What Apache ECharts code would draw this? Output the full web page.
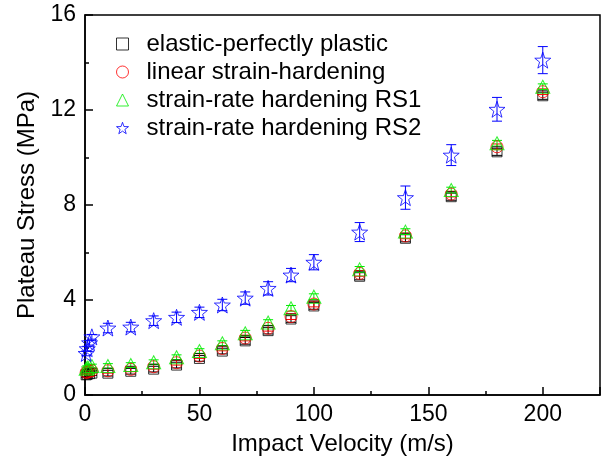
<!DOCTYPE html>
<html>
<head>
<meta charset="utf-8">
<script src="https://cdn.jsdelivr.net/npm/echarts@6/dist/echarts.min.js"></script>
<style>
  html, body { margin: 0; padding: 0; background: #fff; }
  #chart { width: 606px; height: 464px; }
</style>
</head>
<body>
<div id="chart"></div>
<script>
// Impact velocity (m/s)
const velocity = [0.5, 1, 2, 3, 10, 20, 30, 40, 50, 60, 70, 80, 90, 100, 120, 140, 160, 180, 200];

// Plateau stress (MPa) for each material model
const elasticPlastic = [0.85, 0.87, 0.9, 0.92, 0.92, 1.0, 1.09, 1.26, 1.54, 1.85, 2.28, 2.71, 3.2, 3.75, 5.0, 6.6, 8.35, 10.24, 12.6];
const linearHardening = [0.95, 0.97, 1.0, 1.02, 1.02, 1.08, 1.19, 1.36, 1.64, 1.96, 2.4, 2.81, 3.3, 3.83, 5.12, 6.7, 8.46, 10.45, 12.77];
const rateHardeningRS1 = [1.1, 1.15, 1.2, 1.22, 1.22, 1.26, 1.38, 1.59, 1.85, 2.18, 2.6, 3.05, 3.65, 4.14, 5.29, 6.88, 8.63, 10.6, 12.98];
const rateHardeningRS2 = [1.75, 1.95, 2.2, 2.45, 2.82, 2.86, 3.13, 3.27, 3.48, 3.79, 4.08, 4.49, 5.05, 5.59, 6.86, 8.31, 10.1, 12.03, 14.1];

// Scatter (± MPa)
const errElastic = [0.1, 0.1, 0.1, 0.1, 0.12, 0.12, 0.12, 0.12, 0.12, 0.12, 0.14, 0.14, 0.14, 0.14, 0.15, 0.15, 0.15, 0.15, 0.15];
const errLinear = [0.08, 0.08, 0.08, 0.08, 0.1, 0.1, 0.1, 0.1, 0.1, 0.1, 0.12, 0.12, 0.12, 0.12, 0.12, 0.12, 0.12, 0.12, 0.12];
const errRS1 = [0.08, 0.08, 0.08, 0.08, 0.1, 0.1, 0.1, 0.1, 0.1, 0.1, 0.12, 0.12, 0.12, 0.12, 0.12, 0.12, 0.12, 0.12, 0.12];
const errRS2 = [0.1, 0.1, 0.1, 0.1, 0.2, 0.2, 0.2, 0.22, 0.22, 0.24, 0.26, 0.28, 0.28, 0.32, 0.4, 0.49, 0.44, 0.5, 0.57];

const seriesNames = ['elastic-perfectly plastic', 'linear strain-hardening', 'strain-rate hardening RS1', 'strain-rate hardening RS2'];
const yTicks = ['0', '4', '8', '12', '16'];
const xTicks = ['0', '50', '100', '150', '200'];

const FONT = '"Liberation Sans", Arial, sans-serif';
const STAR = 'path://M50 0 L61.76 33.82 L97.55 34.55 L69.02 56.18 L79.39 90.45 L50 70 L20.61 90.45 L30.98 56.18 L2.45 34.55 L38.24 33.82 Z';

const colors = ['#000000', '#ff0000', '#00ee00', '#0000ff'];
const symbols = ['rect', 'circle', 'triangle', STAR];
const sizes = [10, 12, [14, 13], 16];
const values = [elasticPlastic, linearHardening, rateHardeningRS1, rateHardeningRS2];
const errors = [errElastic, errLinear, errRS1, errRS2];

function errorBarSeries(vals, errs, color) {
  return {
    type: 'custom',
    xAxisIndex: 0,
    yAxisIndex: 0,
    silent: true,
    data: velocity.map((v, i) => [v, vals[i], errs[i]]),
    renderItem: function (params, api) {
      const x = api.value(0), y = api.value(1), e = api.value(2);
      const top = api.coord([x, y + e]);
      const bot = api.coord([x, y - e]);
      const hw = 5;
      const style = { stroke: color, lineWidth: 1, fill: null };
      return {
        type: 'group',
        children: [
          { type: 'line', shape: { x1: top[0], y1: top[1], x2: bot[0], y2: bot[1] }, style: style },
          { type: 'line', shape: { x1: top[0] - hw, y1: top[1], x2: top[0] + hw, y2: top[1] }, style: style },
          { type: 'line', shape: { x1: bot[0] - hw, y1: bot[1], x2: bot[0] + hw, y2: bot[1] }, style: style }
        ]
      };
    }
  };
}

const series = [];
values.forEach((vals, k) => {
  series.push(errorBarSeries(vals, errors[k], colors[k]));
  series.push({
    name: seriesNames[k],
    type: 'scatter',
    xAxisIndex: 0,
    yAxisIndex: 0,
    symbol: symbols[k],
    symbolSize: sizes[k],
    itemStyle: { color: 'transparent', borderColor: colors[k], borderWidth: 1 },
    data: velocity.map((v, i) => [v, vals[i]])
  });
});

const chart = echarts.init(document.getElementById('chart'), null, { renderer: 'canvas' });
chart.setOption({
  animation: false,
  backgroundColor: '#fff',
  grid: { left: 85, right: 6, top: 15, bottom: 69, show: true, borderColor: '#000', borderWidth: 1.5, backgroundColor: 'transparent' },
  legend: {
    orient: 'vertical',
    left: 116,
    top: 30,
    padding: 0,
    itemWidth: 12,
    itemHeight: 12,
    itemGap: 0,
    selectedMode: false,
    data: seriesNames.map((n, k) => ({
      name: n,
      icon: symbols[k],
      itemStyle: { color: 'transparent', borderColor: colors[k], borderWidth: 1 }
    })),
    textStyle: { fontFamily: FONT, fontSize: 24, color: '#000', lineHeight: 28, padding: [0, 0, 0, 13] }
  },
  xAxis: [
    {
      type: 'value', min: 0, max: 225, interval: 50, position: 'bottom',
      name: 'Impact Velocity (m/s)', nameLocation: 'middle', nameGap: 37,
      nameTextStyle: { fontFamily: FONT, fontSize: 24, color: '#000' },
      axisLine: { show: true, onZero: false, lineStyle: { color: '#000', width: 1.5 } },
      axisTick: { show: true, inside: true, length: 8, lineStyle: { color: '#000', width: 1.5 } },
      axisLabel: {
        fontFamily: FONT, fontSize: 23, color: '#000', margin: 8,
        formatter: v => { const i = xTicks.indexOf(String(v)); return i >= 0 ? xTicks[i] : ''; }
      },
      splitLine: { show: false }
    },
    {
      type: 'value', min: 0, max: 225, interval: 25, position: 'bottom',
      axisLine: { show: false },
      axisTick: { show: true, inside: true, length: 4, lineStyle: { color: '#000', width: 1.5 } },
      axisLabel: { show: false },
      splitLine: { show: false }
    }
  ],
  yAxis: {
    type: 'value', min: 0, max: 16, interval: 4,
    name: 'Plateau Stress (MPa)', nameLocation: 'middle', nameGap: 46,
    nameTextStyle: { fontFamily: FONT, fontSize: 24, color: '#000' },
    axisLine: { show: true, onZero: false, lineStyle: { color: '#000', width: 1.5 } },
    axisTick: { show: true, inside: true, length: 8, lineStyle: { color: '#000', width: 1.5 } },
    minorTick: { show: true, splitNumber: 2, length: 4, lineStyle: { color: '#000', width: 1.5 } },
    axisLabel: {
      fontFamily: FONT, fontSize: 23, color: '#000', margin: 9,
      formatter: v => { const i = yTicks.indexOf(String(v)); return i >= 0 ? yTicks[i] : ''; }
    },
    splitLine: { show: false }
  },
  series: series
});
</script>
</body>
</html>
